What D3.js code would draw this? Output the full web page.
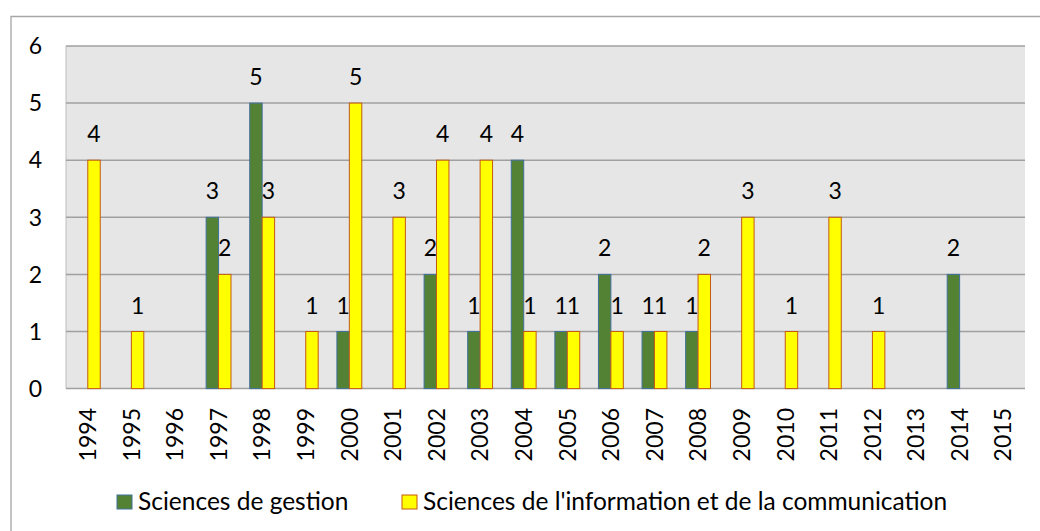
<!DOCTYPE html>
<html><head><meta charset="utf-8">
<script src="https://cdn.jsdelivr.net/npm/d3@7"></script>
<style>body{margin:0;background:#fff}svg{display:block}text{font-family:Lato,"Noto Sans",sans-serif;fill:#000}</style>
</head><body><svg id="c" width="1040" height="531"></svg>
<script>
const years = ["1994","1995","1996","1997","1998","1999","2000","2001","2002","2003","2004","2005","2006","2007","2008","2009","2010","2011","2012","2013","2014","2015"];
const gestion = [null,null,null,3,5,null,1,null,2,1,4,1,2,1,1,null,null,null,null,null,2,null];
const sic = [4,1,null,2,3,1,5,3,4,4,1,1,1,1,2,3,1,3,1,null,null,null];
const seriesNames = ["Sciences de gestion","Sciences de l'information et de la communication"];
const yTicks = [0,1,2,3,4,5,6];

const svg = d3.select("#c");
const M = {l:66, r:1025, t:46, b:388.6};
svg.append("path").attr("d","M11,531V16.5H1040").attr("fill","none").attr("stroke","#a6a6a6").attr("stroke-width",1.3);

const x = d3.scaleBand().domain(years).range([M.l,M.r]).paddingInner(0).paddingOuter(0);
const x1 = d3.scaleBand().domain([0,1]).range([0,x.bandwidth()]).paddingInner(0).paddingOuter(0.7533);
const y = d3.scaleLinear().domain([0,6]).range([M.b,M.t]);

svg.append("rect").attr("x",M.l).attr("y",M.t).attr("width",M.r-M.l).attr("height",M.b-M.t).attr("fill","#e6e6e6");
svg.append("line").attr("x1",M.l).attr("x2",M.l).attr("y1",M.t).attr("y2",M.b).attr("stroke","#bdbdbd").attr("stroke-width",1);
svg.append("g").selectAll("line").data(yTicks).join("line")
  .attr("x1",M.l).attr("x2",M.r).attr("y1",d=>y(d)).attr("y2",d=>y(d))
  .attr("stroke","#a0a0a0").attr("stroke-width",1.5);

svg.append("g").selectAll("text").data(yTicks).join("text")
  .attr("x",42).attr("y",d=>y(d)).attr("dy","0.36em").attr("text-anchor","end")
  .style("font-size","23px").text(d=>d);

const series = [
  {vals:gestion, fill:"#548235", stroke:"#41719c"},
  {vals:sic, fill:"#ffff00", stroke:"#c55a11"}
];
series.forEach((s,si)=>{
  const g = svg.append("g");
  const data = years.map((yr,i)=>({yr, v:s.vals[i]})).filter(d=>d.v!=null);
  g.selectAll("rect").data(data).join("rect")
    .attr("x",d=>x(d.yr)+x1(si)).attr("width",x1.bandwidth())
    .attr("y",d=>y(d.v)).attr("height",d=>y(0)-y(d.v))
    .attr("fill",s.fill).attr("stroke",s.stroke).attr("stroke-width",1);
  g.selectAll("text").data(data).join("text")
    .attr("x",d=>x(d.yr)+x1(si)+x1.bandwidth()/2).attr("y",d=>y(d.v)-18)
    .attr("text-anchor","middle").style("font-size","23px").text(d=>d.v);
});

svg.append("g").selectAll("text").data(years).join("text")
  .attr("transform",d=>`translate(${x(d)+x.bandwidth()/2},408) rotate(-90)`)
  .attr("text-anchor","end").attr("dy","0.36em").style("font-size","23px").text(d=>d);

const leg = [{x:117, name:seriesNames[0], s:series[0]},{x:402, name:seriesNames[1], s:series[1]}];
const lg = svg.append("g");
leg.forEach(l=>{
  lg.append("rect").attr("x",l.x).attr("y",495).attr("width",15).attr("height",14)
    .attr("fill",l.s.fill).attr("stroke",l.s.stroke).attr("stroke-width",1);
  lg.append("text").attr("x",l.x+21).attr("y",510).style("font-size","24.5px").text(l.name);
});
</script></body></html>
